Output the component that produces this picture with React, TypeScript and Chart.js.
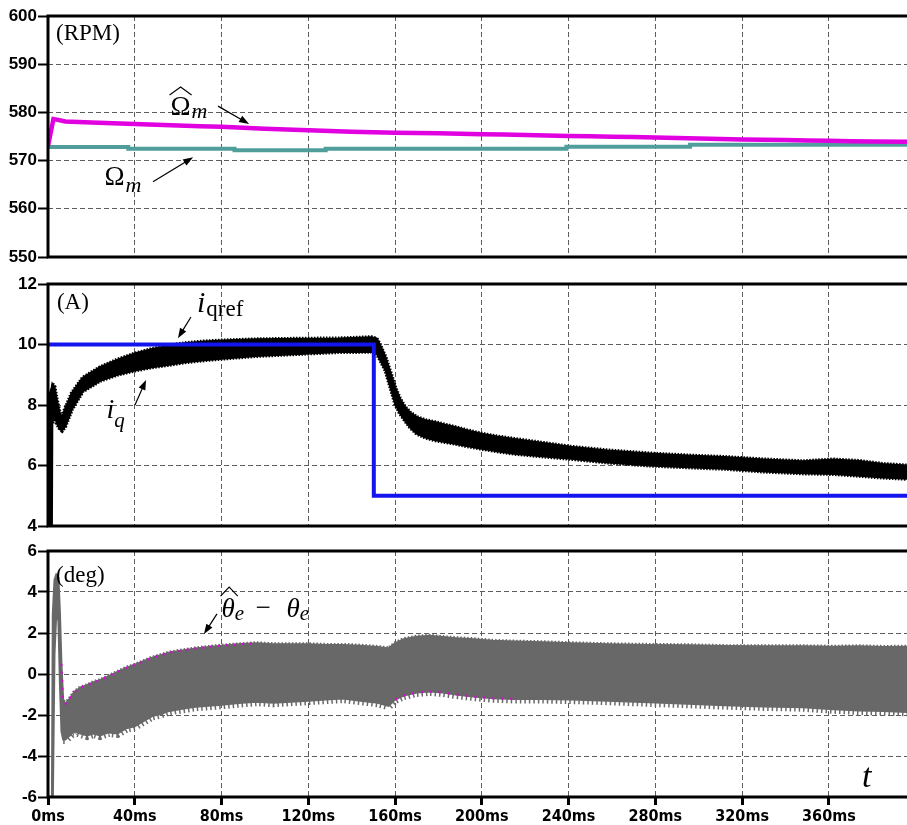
import { useEffect, useRef } from "react";
import { Chart, registerables } from "chart.js";

Chart.register(...registerables);

// ---- shared time axis (ms) ----
const T_MAX = 396;
const T_STEP = 40;

// ---- panel 1: rotor speed (RPM) ----
const SPEED_MIN = 550;
const SPEED_MAX = 600;
const SPEED_STEP = 10;
// estimated speed [t(ms), rpm]
const omegaHat: [number, number][] = [
  [0, 573.0], [2.5, 578.6], [4, 578.5], [8, 578.1], [14, 578.0], [20, 577.9], [30, 577.75],
  [40, 577.6], [50, 577.45], [60, 577.3], [70, 577.15], [80, 577.0], [90, 576.8], [100, 576.6],
  [110, 576.45], [120, 576.3], [130, 576.15], [140, 576.0], [150, 575.9], [160, 575.8],
  [170, 575.75], [180, 575.65], [190, 575.55], [200, 575.45], [210, 575.4], [220, 575.3],
  [230, 575.2], [240, 575.1], [250, 575.05], [260, 574.95], [270, 574.9], [280, 574.8],
  [290, 574.7], [300, 574.6], [310, 574.5], [320, 574.4], [330, 574.35], [340, 574.25],
  [350, 574.15], [360, 574.1], [370, 574.0], [380, 573.95], [396, 573.9],
];
// measured speed [t(ms), rpm], piecewise constant
const omega: [number, number][] = [
  [0, 573.0], [37, 572.8], [86, 572.45], [128, 572.15], [239, 572.45], [296, 572.85], [392, 573.3], [396, 573.3],
];

// ---- panel 2: q-axis current (A) ----
const CUR_MIN = 4;
const CUR_MAX = 12;
const CUR_STEP = 2;
const iqTime = [
  0, 0.5, 1.8, 2.0, 3.0, 4.0, 5.5, 6.5, 8, 11, 16, 24, 32, 40, 48, 56, 64, 72, 80, 96,
  116, 134, 149, 151.5, 153, 155.6, 158, 160, 162, 164.4, 167, 170, 174, 178.7, 183, 187.7,
  193, 200, 207, 215, 225, 241, 258, 277, 295, 312, 330, 348, 362, 374, 385, 396,
];
// upper / lower edge of the ripple band
const iqHigh = [
  3.9, 8.3, 8.6, 8.7, 8.6, 8.2, 7.7, 7.6, 7.9, 8.4, 8.9, 9.25, 9.5, 9.7, 9.85, 9.97, 10.05, 10.1, 10.13, 10.17,
  10.19, 10.2, 10.24, 10.2, 10.0, 9.58, 9.05, 8.6, 8.25, 7.95, 7.75, 7.6, 7.5, 7.43, 7.35, 7.27,
  7.17, 7.05, 6.96, 6.88, 6.78, 6.62, 6.5, 6.4, 6.33, 6.28, 6.2, 6.14, 6.2, 6.15, 6.05, 6.0,
];
const iqLow = [
  3.9, 3.9, 3.9, 7.4, 7.7, 7.4, 7.2, 7.15, 7.3, 7.85, 8.45, 8.8, 9.0, 9.14, 9.25, 9.33, 9.42, 9.48, 9.53, 9.62,
  9.69, 9.75, 9.76, 9.7, 9.5, 9.14, 8.55, 8.05, 7.75, 7.5, 7.25, 7.05, 6.92, 6.83, 6.78, 6.72,
  6.64, 6.55, 6.47, 6.39, 6.32, 6.22, 6.1, 6.0, 5.94, 5.89, 5.8, 5.74, 5.72, 5.66, 5.6, 5.56,
];
// current reference step [t(ms), A]
const iqRef: [number, number][] = [[0, 10], [150.2, 10], [150.2, 5], [396, 5]];

// ---- panel 3: position estimation error (deg) ----
const ERR_MIN = -6;
const ERR_MAX = 6;
const ERR_STEP = 2;
const thetaTime = [
  0, 1.8, 2.2, 3.0, 3.8, 4.8, 5.5, 6.2, 7, 8, 10, 12, 15, 18, 21, 24, 28, 32, 36, 40,
  44, 48, 52, 56, 62, 68, 74, 80, 88, 96, 104, 112, 120, 128, 136, 144, 152, 157, 160, 164,
  170, 176, 182, 188, 196, 205, 215, 228, 241, 258, 277, 295, 312, 330, 348, 362, 374, 385, 396,
];
const thetaHigh = [
  -6.5, -6.5, 2.9, 4.6, 4.85, 4.7, 3.0, 0.5, -1.3, -1.45, -1.2, -0.9, -0.65, -0.55, -0.4, -0.3, -0.1, 0.1, 0.3, 0.45,
  0.62, 0.8, 0.92, 1.05, 1.15, 1.25, 1.32, 1.38, 1.45, 1.5, 1.45, 1.45, 1.45, 1.42, 1.42, 1.38, 1.32, 1.25, 1.5, 1.7,
  1.82, 1.86, 1.8, 1.75, 1.7, 1.62, 1.58, 1.55, 1.5, 1.45, 1.42, 1.4, 1.36, 1.35, 1.35, 1.33, 1.35, 1.32, 1.33,
];
const thetaLow = [
  -6.5, -6.5, -6.5, 1.0, 2.9, 2.6, -0.5, -2.8, -3.2, -3.2, -3.0, -2.8, -2.9, -3.0, -2.9, -3.0, -2.85, -2.9, -2.65, -2.55,
  -2.3, -2.05, -1.95, -1.8, -1.7, -1.6, -1.55, -1.5, -1.42, -1.35, -1.4, -1.35, -1.3, -1.25, -1.2, -1.3, -1.4, -1.55, -1.25, -1.05,
  -0.9, -0.85, -0.9, -1.0, -1.1, -1.18, -1.22, -1.22, -1.25, -1.3, -1.38, -1.45, -1.52, -1.58, -1.62, -1.72, -1.78, -1.8, -1.85,
];
// stretches where the estimate trace shows at the band edge
const HAT_EDGE_HIGH: [number, number] = [6, 96];
const HAT_EDGE_LOW: [number, number] = [160, 216];
// ripple texture is drawn after the start-up transient
const IQ_RIPPLE: [number, number] = [2, 396];
const THETA_RIPPLE: [number, number] = [7, 396];

// ---- styling ----
const WIDTH = 907;
const Y_AXIS_W = 48;
const GRID = "#5c5c5c";
const GRID_DASH = [5, 3];
const SERIF = '"Liberation Serif", "DejaVu Serif", serif';
const Y_FONT = { family: '"Liberation Sans", Arial, sans-serif', weight: "bold", size: 17 };
const X_FONT = { family: '"Liberation Sans Narrow", "DejaVu Sans Condensed", sans-serif', weight: "bold", size: 16 };
const MAGENTA = "#e000e0";
const BAND_GRAY = "#686868";

const pairs = (p: [number, number][]) => p.map(([x, y]) => ({ x, y }));
const zip = (t: number[], v: number[]) => t.map((x, i) => ({ x, y: v[i] }));
const within = (pts: { x: number; y: number }[], [a, b]: [number, number]) => pts.filter((p) => p.x >= a && p.x <= b);

function xScale(labels: boolean) {
  return {
    type: "linear",
    min: 0,
    max: T_MAX,
    ticks: {
      display: labels,
      stepSize: T_STEP,
      includeBounds: false,
      autoSkip: false,
      maxRotation: 0,
      padding: 2,
      color: "#000",
      font: X_FONT,
      callback: (v: number) => `${v}ms`,
    },
    grid: {
      color: GRID,
      lineWidth: 1,
      drawTicks: labels,
      tickLength: 8,
      tickColor: "#000",
      tickWidth: 3,
      tickBorderDash: [],
    },
    border: { display: false, dash: GRID_DASH },
    afterFit: (s: any) => {
      s.height = labels ? 28 : 0;
    },
  };
}

function yScale(min: number, max: number, step: number) {
  return {
    type: "linear",
    min,
    max,
    ticks: {
      stepSize: step,
      padding: 1,
      color: "#000",
      font: Y_FONT,
      callback: (v: number) => String(v),
    },
    grid: {
      color: GRID,
      lineWidth: 1,
      drawTicks: true,
      tickLength: 10,
      tickColor: "#000",
      tickWidth: 2,
      tickBorderDash: [],
    },
    border: { display: false, dash: GRID_DASH },
    afterFit: (s: any) => {
      s.width = Y_AXIS_W;
    },
  };
}

// thick black frame: top, left and bottom edges of the plot area
const framePlugin = {
  id: "frame",
  afterDraw(chart: any) {
    const { ctx, chartArea: a } = chart;
    ctx.save();
    ctx.setLineDash([]);
    ctx.strokeStyle = "#000";
    ctx.lineWidth = 3;
    ctx.beginPath();
    ctx.moveTo(a.right + 3, a.top);
    ctx.lineTo(a.left, a.top);
    ctx.lineTo(a.left, a.bottom);
    ctx.lineTo(a.right + 3, a.bottom);
    ctx.stroke();
    ctx.restore();
  },
};

type At = (t: number, v: number) => [number, number];

function arrow(ctx: CanvasRenderingContext2D, a: [number, number], b: [number, number]) {
  const [x0, y0] = a;
  const [x1, y1] = b;
  const ang = Math.atan2(y1 - y0, x1 - x0);
  const c = Math.cos(ang);
  const s = Math.sin(ang);
  const L = 10;
  const W = 3.6;
  ctx.lineWidth = 1.2;
  ctx.beginPath();
  ctx.moveTo(x0, y0);
  ctx.lineTo(x1 - c * L * 0.8, y1 - s * L * 0.8);
  ctx.stroke();
  ctx.beginPath();
  ctx.moveTo(x1, y1);
  ctx.lineTo(x1 - L * c + W * s, y1 - L * s - W * c);
  ctx.lineTo(x1 - L * c - W * s, y1 - L * s + W * c);
  ctx.closePath();
  ctx.fill();
}

function hat(ctx: CanvasRenderingContext2D, x0: number, x1: number, yb: number, h: number) {
  ctx.lineWidth = 1.1;
  ctx.beginPath();
  ctx.moveTo(x0, yb);
  ctx.lineTo((x0 + x1) / 2, yb - h);
  ctx.lineTo(x1, yb);
  ctx.stroke();
}

function unit(ctx: CanvasRenderingContext2D, s: string, p: [number, number]) {
  ctx.font = `23px ${SERIF}`;
  ctx.textBaseline = "middle";
  ctx.textAlign = "left";
  ctx.fillText(s, p[0], p[1]);
  ctx.textBaseline = "alphabetic";
}

function notes(id: string, draw: (ctx: CanvasRenderingContext2D, at: At) => void) {
  return {
    id,
    afterDraw(chart: any) {
      const { ctx } = chart;
      const xs = chart.scales.x;
      const ys = chart.scales.y;
      ctx.save();
      ctx.fillStyle = "#000";
      ctx.strokeStyle = "#000";
      ctx.setLineDash([]);
      ctx.textAlign = "left";
      ctx.textBaseline = "alphabetic";
      draw(ctx, (t, v) => [xs.getPixelForValue(t), ys.getPixelForValue(v)]);
      ctx.restore();
    },
  };
}

const speedNotes = notes("speedNotes", (ctx, at) => {
  unit(ctx, "(RPM)", at(3.7, 596.3));
  // estimated speed label
  let [x, y] = at(56.5, 579.46);
  ctx.font = `27px ${SERIF}`;
  ctx.fillText("Ω", x, y);
  let w = ctx.measureText("Ω").width;
  hat(ctx, x - 1, x + w + 1, y - 20, 8);
  ctx.font = `italic 22px ${SERIF}`;
  ctx.fillText("m", x + w + 1, y + 3);
  arrow(ctx, at(78.4, 581.3), at(92.7, 577.6));
  // measured speed label
  [x, y] = at(26.0, 564.9);
  ctx.font = `27px ${SERIF}`;
  ctx.fillText("Ω", x, y);
  w = ctx.measureText("Ω").width;
  ctx.font = `italic 22px ${SERIF}`;
  ctx.fillText("m", x + w + 1, y + 7);
  arrow(ctx, at(48.4, 565.6), at(66.9, 570.7));
});

const currentNotes = notes("currentNotes", (ctx, at) => {
  unit(ctx, "(A)", at(4.1, 11.37));
  let [x, y] = at(68.7, 11.07);
  ctx.font = `italic 30px ${SERIF}`;
  ctx.fillText("i", x, y);
  let w = ctx.measureText("i").width;
  ctx.font = `23px ${SERIF}`;
  ctx.fillText("qref", x + w + 1, y + 4);
  arrow(ctx, at(65.9, 10.91), at(59.9, 10.21));
  [x, y] = at(27.0, 7.57);
  ctx.font = `italic 28px ${SERIF}`;
  ctx.fillText("i", x, y);
  w = ctx.measureText("i").width;
  ctx.font = `italic 21px ${SERIF}`;
  ctx.fillText("q", x + w, y + 9);
  arrow(ctx, at(40.1, 8.0), at(45.2, 8.83));
});

const errorNotes = notes("errorNotes", (ctx, at) => {
  unit(ctx, "(deg)", at(3.7, 4.78));
  const [x, y] = at(80.0, 2.78);
  ctx.font = `italic 27px ${SERIF}`;
  ctx.fillText("θ", x, y);
  const w = ctx.measureText("θ").width;
  hat(ctx, x - 1, x + w + 3, y - 21, 9);
  ctx.font = `italic 21px ${SERIF}`;
  ctx.fillText("e", x + w, y + 3);
  ctx.font = `27px ${SERIF}`;
  ctx.fillText("−", x + 34, y - 1);
  ctx.font = `italic 27px ${SERIF}`;
  ctx.fillText("θ", x + 65, y);
  ctx.font = `italic 21px ${SERIF}`;
  ctx.fillText("e", x + 65 + w, y + 3);
  arrow(ctx, at(77.9, 2.93), at(71.9, 1.95));
  const [tx, ty] = at(375.3, -5.51);
  ctx.font = `italic 34px ${SERIF}`;
  ctx.fillText("t", tx, ty);
});

function baseOptions(xLabels: boolean, yMin: number, yMax: number, yStep: number, padTop: number, padBottom: number) {
  return {
    responsive: false,
    animation: false,
    events: [],
    layout: { autoPadding: false, padding: { top: padTop, bottom: padBottom, left: 0, right: 0 } },
    elements: { point: { radius: 0 }, line: { tension: 0 } },
    plugins: { legend: { display: false }, tooltip: { enabled: false } },
    scales: { x: xScale(xLabels), y: yScale(yMin, yMax, yStep) },
  };
}

export default function App() {
  const speedRef = useRef<HTMLCanvasElement>(null);
  const currentRef = useRef<HTMLCanvasElement>(null);
  const errorRef = useRef<HTMLCanvasElement>(null);

  useEffect(() => {
    const charts: Chart[] = [];

    charts.push(
      new Chart(speedRef.current as HTMLCanvasElement, {
        type: "line",
        data: {
          datasets: [
            { data: pairs(omegaHat), borderColor: MAGENTA, borderWidth: 4.5, fill: false },
            { data: pairs(omega), borderColor: "#4f9e9b", borderWidth: 4, stepped: "after", fill: false },
          ],
        },
        options: baseOptions(false, SPEED_MIN, SPEED_MAX, SPEED_STEP, 16, 13) as any,
        plugins: [framePlugin, speedNotes],
      })
    );

    const iqHighPts = zip(iqTime, iqHigh);
    const iqLowPts = zip(iqTime, iqLow);

    charts.push(
      new Chart(currentRef.current as HTMLCanvasElement, {
        type: "line",
        data: {
          datasets: [
            { data: pairs(iqRef), borderColor: "#1414ee", borderWidth: 4, fill: false },
            // serrated ripple edges
            { data: within(iqLowPts, IQ_RIPPLE), borderColor: "#000", borderWidth: 4, borderDash: [1.5, 1.5], fill: false },
            { data: within(iqHighPts, IQ_RIPPLE), borderColor: "#000", borderWidth: 4, borderDash: [1.5, 1.5], fill: false },
            // ripple band body
            { data: iqLowPts, borderColor: "#000", borderWidth: 2, fill: false },
            { data: iqHighPts, borderColor: "#000", borderWidth: 2, backgroundColor: "#000", fill: "-1" },
          ],
        },
        options: baseOptions(false, CUR_MIN, CUR_MAX, CUR_STEP, 14, 12) as any,
        plugins: [framePlugin, currentNotes],
      })
    );

    const thetaHighPts = zip(thetaTime, thetaHigh);
    const thetaLowPts = zip(thetaTime, thetaLow);

    charts.push(
      new Chart(errorRef.current as HTMLCanvasElement, {
        type: "line",
        data: {
          datasets: [
            // estimate trace peeking out along the band edges
            { data: within(thetaHighPts, HAT_EDGE_HIGH), borderColor: MAGENTA, borderWidth: 2, borderDash: [2, 6], fill: false },
            { data: within(thetaLowPts, HAT_EDGE_LOW), borderColor: MAGENTA, borderWidth: 2, borderDash: [2, 7], fill: false },
            // spiky band edges
            { data: within(thetaLowPts, THETA_RIPPLE), borderColor: BAND_GRAY, borderWidth: 9, borderDash: [1.5, 3], fill: false },
            { data: within(thetaHighPts, THETA_RIPPLE), borderColor: BAND_GRAY, borderWidth: 4, borderDash: [1.5, 2], fill: false },
            // error band body
            { data: thetaLowPts, borderColor: BAND_GRAY, borderWidth: 2, fill: false },
            { data: thetaHighPts, borderColor: BAND_GRAY, borderWidth: 2, backgroundColor: BAND_GRAY, fill: "-1" },
          ],
        },
        options: baseOptions(true, ERR_MIN, ERR_MAX, ERR_STEP, 13, 0) as any,
        plugins: [framePlugin, errorNotes],
      })
    );

    return () => charts.forEach((c) => c.destroy());
  }, []);

  const canvasStyle = (top: number, h: number): any => ({
    position: "absolute",
    left: 0,
    top,
    width: WIDTH,
    height: h,
    display: "block",
  });

  return (
    <div
      style={{
        position: "fixed",
        left: 0,
        top: 0,
        width: WIDTH,
        height: 825,
        overflow: "hidden",
        background: "#fff",
      }}
    >
      <canvas ref={speedRef} width={WIDTH} height={270} style={canvasStyle(0, 270)} />
      <canvas ref={currentRef} width={WIDTH} height={268} style={canvasStyle(270, 268)} />
      <canvas ref={errorRef} width={WIDTH} height={287} style={canvasStyle(538, 287)} />
    </div>
  );
}
